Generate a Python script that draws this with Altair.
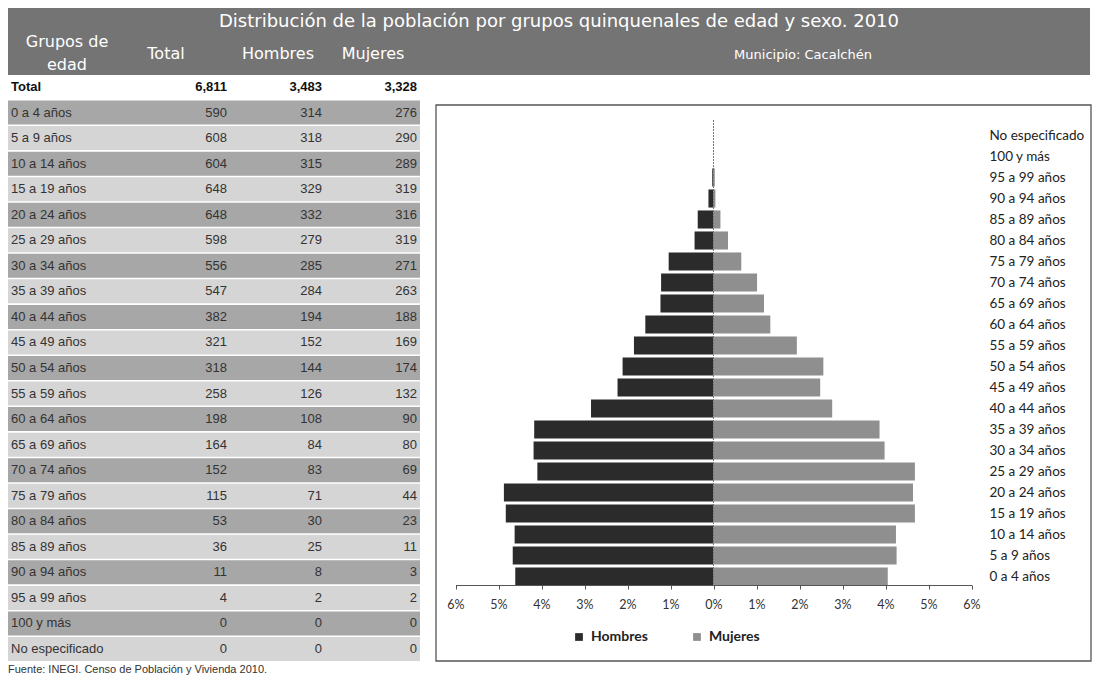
import altair as alt
import pandas as pd

# ---------------- data ----------------
groups = ["0 a 4 años", "5 a 9 años", "10 a 14 años", "15 a 19 años", "20 a 24 años",
          "25 a 29 años", "30 a 34 años", "35 a 39 años", "40 a 44 años", "45 a 49 años",
          "50 a 54 años", "55 a 59 años", "60 a 64 años", "65 a 69 años", "70 a 74 años",
          "75 a 79 años", "80 a 84 años", "85 a 89 años", "90 a 94 años", "95 a 99 años",
          "100 y más", "No especificado"]
total = [590, 608, 604, 648, 648, 598, 556, 547, 382, 321, 318, 258, 198, 164, 152, 115, 53, 36, 11, 4, 0, 0]
hombres = [314, 318, 315, 329, 332, 279, 285, 284, 194, 152, 144, 126, 108, 84, 83, 71, 30, 25, 8, 2, 0, 0]
mujeres = [276, 290, 289, 319, 316, 319, 271, 263, 188, 169, 174, 132, 90, 80, 69, 44, 23, 11, 3, 2, 0, 0]
total_row = [6811, 3483, 3328]
columns = ["Total", "Hombres", "Mujeres"]
sexes = ["Hombres", "Mujeres"]

title_text = "Distribución de la población por grupos quinquenales de edad y sexo. 2010"
municipio_text = "Municipio: Cacalchén"
source_text = "Fuente: INEGI. Censo de Población y Vivienda 2010."

# ---------------- tables built from the arrays ----------------
rows = ["Total"] + groups
bg = pd.DataFrame({"row": groups, "shade": ["a" if i % 2 == 0 else "b" for i in range(len(groups))]})

lab = pd.DataFrame({"row": groups, "col": "label", "txt": groups})
nums = pd.DataFrame({
    "row": groups * 3,
    "col": ["Total"] * len(groups) + ["Hombres"] * len(groups) + ["Mujeres"] * len(groups),
    "value": total + hombres + mujeres,
})
tot_lab = pd.DataFrame({"row": ["Total"], "col": ["label"], "txt": ["Total"]})
tot_nums = pd.DataFrame({"row": ["Total"] * 3, "col": columns, "value": total_row})

pyr = pd.DataFrame({
    "grupo": groups * 2,
    "sexo": ["Hombres"] * len(groups) + ["Mujeres"] * len(groups),
    "pct": [-h / total_row[0] * 100 for h in hombres] + [m / total_row[0] * 100 for m in mujeres],
})

dummy = alt.Data(values=[{}])
TFONT = "Liberation Sans, Arial, sans-serif"
HFONT = "DejaVu Sans, Liberation Sans, sans-serif"
PFONT = "Lato, Open Sans, sans-serif"

# ---------------- header bar ----------------
def htext(txt, x, y, size):
    return alt.Chart(dummy).mark_text(
        text=txt, fontSize=size, color="white", font=HFONT, align="center", baseline="middle"
    ).encode(x=alt.value(x), y=alt.value(y))

header = alt.layer(
    htext(title_text, 551, 14, 18),
    htext("Grupos de", 59, 34, 16),
    htext("edad", 59, 57, 16),
    htext("Total", 158, 46, 16),
    htext("Hombres", 270, 46, 16),
    htext("Mujeres", 365, 46, 16),
    htext(municipio_text, 795, 47, 13),
).properties(width=1082, height=67, view=alt.ViewBackground(fill="#747474", strokeWidth=0))

# ---------------- table ----------------
TW, TH = 412, 586
yscale = alt.Scale(domain=rows, paddingInner=0.06, paddingOuter=0)
xscale = alt.Scale(type="point", domain=["label", "_gap", "Total", "Hombres", "Mujeres"],
                   range=[29, 409], padding=0)

def tx(df, align, field, bold=False, dx=0, fmt=None):
    mk = alt.Chart(df).mark_text(align=align, baseline="middle", fontSize=13, font=TFONT, dx=dx,
                                 fontWeight="bold" if bold else "normal",
                                 color="#111" if bold else "#333")
    text = alt.Text(field, format=fmt) if fmt else alt.Text(field)
    return mk.encode(
        y=alt.Y("row:N", scale=yscale, axis=None),
        x=alt.X("col:N", scale=xscale, axis=None),
        text=text,
    )

t_bg = alt.Chart(bg).mark_rect().encode(
    y=alt.Y("row:N", scale=yscale, axis=None),
    x=alt.value(0), x2=alt.value(TW),
    color=alt.Color("shade:N", scale=alt.Scale(domain=["a", "b"], range=["#a7a7a7", "#d5d5d5"]), legend=None),
)
table = alt.layer(
    t_bg,
    tx(lab, "left", "txt:N", dx=-26),
    tx(nums, "right", "value:Q", fmt=","),
    tx(tot_lab, "left", "txt:N", bold=True, dx=-26),
    tx(tot_nums, "right", "value:Q", bold=True, fmt=","),
).properties(
    width=TW, height=TH,
    title=alt.TitleParams(source_text, orient="bottom", anchor="start", fontSize=11, font=TFONT,
                          fontWeight="normal", color="#333", offset=3),
)

# ---------------- pyramid ----------------
PW, PH = 655, 586
box = alt.Chart(dummy).mark_rect(fill="white", stroke="#555", strokeWidth=1.3).encode(
    x=alt.value(0), x2=alt.value(PW), y=alt.value(30), y2=alt.value(PH)
)
bars = alt.Chart(pyr).mark_bar().encode(
    x=alt.X("pct:Q",
            scale=alt.Scale(domain=[-6, 6], range=[19.5, 535.5], nice=False),
            axis=alt.Axis(values=list(range(-6, 7)), labelExpr="abs(datum.value) + '%'", title=None,
                          offset=-76, grid=False, domainColor="#555", tickColor="#555", tickSize=4,
                          labelFont=PFONT, labelFontSize=12.5, labelColor="#333", labelPadding=9,
                          labelFlush=False, zindex=2)),
    y=alt.Y("grupo:N",
            scale=alt.Scale(domain=groups[::-1], range=[50, 512], paddingInner=0.14, paddingOuter=0.07),
            axis=alt.Axis(orient="right", title=None, domain=False, ticks=False, labelPadding=0,
                          offset=-102, labelFont=PFONT, labelFontSize=13.5, labelColor="#222",
                          labelAlign="left", zindex=2)),
    color=alt.Color("sexo:N",
                    scale=alt.Scale(domain=sexes, range=["#2b2b2b", "#8f8f8f"]),
                    legend=alt.Legend(title=None, orient="none", legendX=136, legendY=555,
                                      direction="horizontal", symbolType="square", symbolSize=60,
                                      symbolStrokeWidth=0, labelFont=PFONT, labelFontSize=14,
                                      labelFontWeight="bold", labelColor="#222", columnPadding=42,
                                      padding=0, labelOffset=5)),
)
zero = alt.Chart(dummy).mark_rule(color="#777", strokeDash=[2, 1], strokeWidth=1).encode(
    x=alt.datum(0), y=alt.value(45), y2=alt.value(510)
)
pyramid = alt.layer(box, bars, zero).properties(width=PW, height=PH)

body = alt.hconcat(table, pyramid, spacing=15).resolve_scale(color="independent")

chart = alt.vconcat(header, body, spacing=0).properties(padding=0).configure_view(strokeWidth=0)

chart.save("out.html", embed_options={"renderer": "svg", "actions": False})
